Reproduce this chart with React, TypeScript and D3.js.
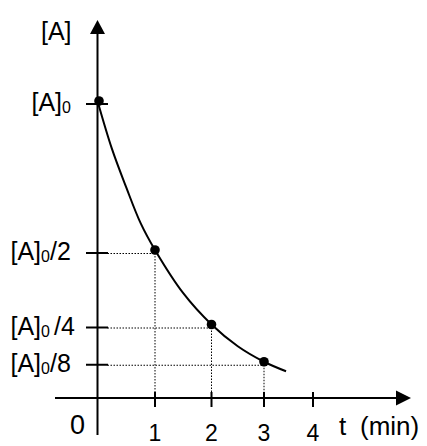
import React, { useEffect, useRef } from 'react';
import * as d3 from 'd3';

// half-life decay readings
const timeTicks = [1, 2, 3, 4];
const pointTimes = [0, 1, 2, 3];
const pointConc = [1, 0.5, 0.25, 0.125];
const curveTimes = [0, 0.25, 0.5, 0.75, 1, 1.5, 2, 2.5, 3, 3.45];
const curveConc = [1, 0.84, 0.71, 0.59, 0.5, 0.355, 0.25, 0.177, 0.125, 0.093];
const levelValues = [1, 0.5, 0.25, 0.125];
const levelSuffix = ['', '/2', ' /4', '/8'];

const App = () => {
    const ref = useRef<SVGSVGElement>(null);
    const width = 427;
    const height = 446;
    const axisX = 97.5;
    const axisY = 398;
    const lift = 3;
    const font = '"Liberation Sans", Arial, sans-serif';

    useEffect(() => {
        const svg = d3.select(ref.current);
        svg.selectAll('*').remove();

        const x = d3
            .scaleLinear()
            .domain([0, 1, 2, 3, 4])
            .range([axisX, 155, 211.5, 264, 313]);
        const y = d3.scaleLinear().domain([0, 1]).range([402, 104]);

        // dotted guides
        const guides = svg
            .append('g')
            .attr('stroke', '#000')
            .attr('stroke-width', 1)
            .attr('stroke-dasharray', '1.5,1.5');
        pointTimes.slice(1).forEach((t, i) => {
            const c = pointConc[i + 1];
            guides
                .append('line')
                .attr('x1', axisX + 10)
                .attr('x2', x(t))
                .attr('y1', y(c) + 0.5)
                .attr('y2', y(c) + 0.5);
            guides
                .append('line')
                .attr('x1', x(t))
                .attr('x2', x(t))
                .attr('y1', y(c))
                .attr('y2', axisY);
        });

        // axes
        const axes = svg.append('g').attr('stroke', '#000').attr('stroke-width', 2);
        axes.append('line').attr('x1', 55).attr('x2', 396).attr('y1', axisY).attr('y2', axisY);
        axes.append('line').attr('x1', axisX).attr('x2', axisX).attr('y1', 435).attr('y2', 33);
        svg.append('path')
            .attr('d', `M396,${axisY - 7.5}L411,${axisY}L396,${axisY + 7.5}Z`)
            .attr('fill', '#000');
        svg.append('path')
            .attr('d', `M${axisX - 7.5},34L${axisX},20L${axisX + 7.5},34Z`)
            .attr('fill', '#000');

        axes.selectAll('.xt')
            .data(timeTicks)
            .enter()
            .append('line')
            .attr('x1', d => x(d))
            .attr('x2', d => x(d))
            .attr('y1', axisY - 6)
            .attr('y2', axisY + 9);
        axes.selectAll('.yt')
            .data(levelValues)
            .enter()
            .append('line')
            .attr('x1', axisX - 11.5)
            .attr('x2', axisX + 10.5)
            .attr('y1', d => y(d))
            .attr('y2', d => y(d));

        // labels
        svg.append('g')
            .style('font-family', font)
            .style('font-size', '23px')
            .selectAll('text')
            .data(timeTicks)
            .enter()
            .append('text')
            .attr('x', d => x(d))
            .attr('y', 441)
            .attr('text-anchor', 'middle')
            .text(d => d);

        svg.append('text')
            .attr('x', 77.5)
            .attr('y', 434)
            .attr('text-anchor', 'middle')
            .style('font-family', font)
            .style('font-size', '27px')
            .text('0');

        const tl = svg
            .append('text')
            .attr('y', 435)
            .style('font-family', font)
            .style('font-size', '26px');
        tl.append('tspan').attr('x', 339).text('t');
        tl.append('tspan').attr('x', 360).text('(min)');

        svg.append('text')
            .attr('x', 41)
            .attr('y', 40)
            .style('font-family', font)
            .style('font-size', '25px')
            .text('[A]');

        const yl = svg
            .append('g')
            .style('font-family', font)
            .style('font-size', '25px')
            .selectAll('text')
            .data(levelValues)
            .enter()
            .append('text')
            .attr('x', (d, i) => (i === 0 ? 31.5 : 10.5))
            .attr('y', d => y(d) + 7);
        yl.append('tspan').text('[A]');
        yl.append('tspan').attr('dy', 2).style('font-size', '16px').text('0');
        yl.append('tspan')
            .attr('dy', -2)
            .attr('dx', (d, i) => (i === 2 ? 4 : 0))
            .text((d, i) => levelSuffix[i].trim());

        // decay curve and points
        const line = d3
            .line<number>()
            .x((d, i) => x(curveTimes[i]))
            .y(d => y(d) - lift)
            .curve(d3.curveCatmullRom);
        svg.append('path')
            .datum(curveConc)
            .attr('d', line)
            .attr('fill', 'none')
            .attr('stroke', '#000')
            .attr('stroke-width', 2);

        svg.append('g')
            .selectAll('circle')
            .data(pointConc)
            .enter()
            .append('circle')
            .attr('cx', (d, i) => x(pointTimes[i]) + (i === 0 ? 1.5 : 0))
            .attr('cy', d => y(d) - lift)
            .attr('r', 4.8)
            .attr('fill', '#000');
    }, []);

    return (
        <svg
            ref={ref}
            width={width}
            height={height}
            style={{ position: 'absolute', left: 0, top: 0, background: '#fff' }}
        />
    );
};

export default App;
